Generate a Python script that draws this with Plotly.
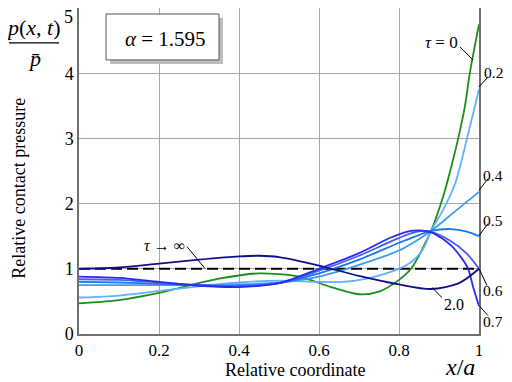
import plotly.graph_objects as go

# ---- data ----
x_t0 = [0, 0.1, 0.2, 0.26, 0.35, 0.45, 0.55, 0.63, 0.7, 0.75, 0.8, 0.83, 0.88, 0.91, 0.93, 0.948, 0.965, 0.977, 1.0]
y_t0 = [0.47, 0.52, 0.63, 0.72, 0.85, 0.93, 0.88, 0.72, 0.61, 0.65, 0.83, 1.0, 1.58, 2.1, 2.55, 3.0, 3.5, 4.0, 4.75]

x_t02 = [0, 0.1, 0.2, 0.3, 0.4, 0.5, 0.6, 0.66, 0.72, 0.8, 0.83, 0.86, 0.88, 0.91, 0.94, 0.97, 1.0]
y_t02 = [0.56, 0.59, 0.66, 0.73, 0.79, 0.82, 0.80, 0.80, 0.85, 1.0, 1.10, 1.30, 1.58, 1.9, 2.3, 3.0, 3.75]

x_t04 = [0, 0.1, 0.2, 0.3, 0.4, 0.5, 0.6, 0.7, 0.8, 0.83, 0.88, 0.94, 1.0]
y_t04 = [0.75, 0.75, 0.75, 0.75, 0.76, 0.79, 0.88, 1.06, 1.28, 1.38, 1.58, 1.88, 2.18]

x_t05 = [0, 0.1, 0.2, 0.3, 0.4, 0.5, 0.6, 0.7, 0.8, 0.83, 0.88, 0.93, 0.97, 1.0]
y_t05 = [0.80, 0.79, 0.77, 0.75, 0.74, 0.78, 0.93, 1.14, 1.40, 1.47, 1.58, 1.61, 1.57, 1.5]

x_t06 = [0, 0.1, 0.2, 0.3, 0.4, 0.5, 0.6, 0.7, 0.78, 0.83, 0.87, 0.928, 0.97, 1.0]
y_t06 = [0.84, 0.83, 0.79, 0.75, 0.73, 0.78, 0.97, 1.20, 1.42, 1.545, 1.58, 1.43, 1.23, 1.0]

x_t07 = [0, 0.1, 0.2, 0.3, 0.4, 0.5, 0.6, 0.7, 0.78, 0.83, 0.88, 0.93, 0.957, 0.973, 0.985, 1.0]
y_t07 = [0.88, 0.86, 0.80, 0.74, 0.72, 0.78, 1.0, 1.24, 1.48, 1.58, 1.56, 1.36, 1.16, 1.0, 0.73, 0.43]

x_t2 = [0, 0.1, 0.2, 0.3, 0.4, 0.45, 0.5, 0.6, 0.7, 0.8, 0.88, 0.95, 1.0]
y_t2 = [1.0, 1.02, 1.08, 1.14, 1.19, 1.20, 1.18, 1.05, 0.89, 0.76, 0.69, 0.78, 1.0]

x_inf = [0, 1]
y_inf = [1, 1]

x_ticks = [0, 0.2, 0.4, 0.6, 0.8, 1]
x_ticklabels = ["0", "0.2", "0.4", "0.6", "0.8", "1"]
y_ticks = [0, 1, 2, 3, 4, 5]
y_ticklabels = ["0", "1", "2", "3", "4", "5"]

series = [
    ("τ = 0", x_t0, y_t0, "#1c8c1c"),
    ("0.2", x_t02, y_t02, "#62b0ff"),
    ("0.4", x_t04, y_t04, "#3d9af5"),
    ("0.5", x_t05, y_t05, "#1b78e4"),
    ("0.6", x_t06, y_t06, "#4a5cf2"),
    ("0.7", x_t07, y_t07, "#2a2af5"),
    ("2.0", x_t2, y_t2, "#101088"),
]

SERIF = "Liberation Serif, Times New Roman, DejaVu Serif, serif"

fig = go.Figure()
fig.add_trace(go.Scatter(x=x_inf, y=y_inf, mode="lines",
                         line=dict(color="black", width=2, dash="11px,5px"), showlegend=False))
for name, xs, ys, col in series:
    fig.add_trace(go.Scatter(x=xs, y=ys, mode="lines", name=name,
                             line=dict(color=col, width=1.8, shape="spline", smoothing=0.8),
                             showlegend=False))

# the page body adds an 8px margin; the figure fills the rest of the window
OFF = 8
W, H = 512 - OFF, 382 - OFF
PL, PR, PB = 79, 479, 334.5          # plot-area edges in window pixels
L = PL - OFF
R = W - (PR - OFF)
B = H - (PB - OFF)
T = 0
PH = H - B - T


def px_(px):
    return (px - PL) / (PR - PL)


def py_(py):
    return (PB - py) / PH


shapes = []
# alpha box with shadow
shapes.append(dict(type="rect", xref="paper", yref="paper", x0=px_(110), x1=px_(223), y0=py_(64), y1=py_(18),
                   fillcolor="#bdbdbd", line=dict(width=0), layer="above"))
shapes.append(dict(type="rect", xref="paper", yref="paper", x0=px_(106), x1=px_(219), y0=py_(60), y1=py_(14),
                   fillcolor="white", line=dict(color="#555555", width=1), layer="above"))
# fraction bar
shapes.append(dict(type="line", xref="paper", yref="paper", x0=px_(9), x1=px_(59), y0=py_(43), y1=py_(43),
                   line=dict(color="black", width=1.2)))

# label pointer lines (window pixel endpoints)
pointers = [((460, 47), (473, 60)), ((488, 77), (479, 87)), ((488, 179), (479, 190.5)),
            ((488, 224), (479, 236)), ((487, 286), (479, 269)), ((488, 316), (479, 306)),
            ((442, 298), (432, 288)), ((187, 247), (205, 269))]
for (a, b) in pointers:
    shapes.append(dict(type="line", xref="paper", yref="paper", x0=px_(a[0]), y0=py_(a[1]),
                       x1=px_(b[0]), y1=py_(b[1]), line=dict(color="black", width=1)))

ann = []


def text(px, py, s, size=16, textangle=0, xanchor="center"):
    ann.append(dict(x=px_(px), y=py_(py), xref="paper", yref="paper", text=s, showarrow=False,
                    xanchor=xanchor, yanchor="middle", textangle=textangle,
                    font=dict(family=SERIF, size=size, color="black")))


text(441, 43, "<i>τ</i> = 0", 17)
text(505, 73, "0.2", 15.5, xanchor="right")
text(505, 176, "0.4", 15.5, xanchor="right")
text(505, 221, "0.5", 15.5, xanchor="right")
text(505, 291, "0.6", 15.5, xanchor="right")
text(505, 322, "0.7", 15.5, xanchor="right")
text(454, 305, "2.0", 16)
text(164, 246, "<i>τ</i> → ∞", 16)
text(165, 39, "<i>α</i> = 1.595", 21)
text(33, 28, "<i>p</i>(<i>x</i>, <i>t</i>)", 22)
text(34, 59, "<i>p̄</i>", 22)
text(19, 189, "Relative contact pressure", 18, textangle=-90)
text(295, 371, "Relative coordinate", 18)
text(460, 368, "<i>x</i>/<i>a</i>", 24)
# top tick label sits above the figure's top edge; draw it just inside
text(68.5, 17, y_ticklabels[-1], 18)

fig.update_layout(
    width=W, height=H,
    margin=dict(l=L, r=R, t=T, b=B, autoexpand=False),
    paper_bgcolor="white", plot_bgcolor="white",
    shapes=shapes, annotations=ann,
    font=dict(family=SERIF, size=16, color="black"),
)
fig.update_xaxes(range=[0, 1], tickvals=x_ticks, ticktext=x_ticklabels,
                 showgrid=True, gridcolor="#a8a8a8", gridwidth=1,
                 showline=True, linecolor="#707070", linewidth=1.5, mirror=True,
                 ticks="", zeroline=False, automargin=False, tickfont=dict(family=SERIF, size=17))
fig.update_yaxes(range=[0, 5], tickvals=y_ticks[:-1], ticktext=y_ticklabels[:-1],
                 showgrid=True, gridcolor="#a8a8a8", gridwidth=1,
                 showline=True, linecolor="#707070", linewidth=1.5, mirror=True,
                 ticks="", zeroline=False, automargin=False, tickfont=dict(family=SERIF, size=18))

fig.write_html("out.html")
